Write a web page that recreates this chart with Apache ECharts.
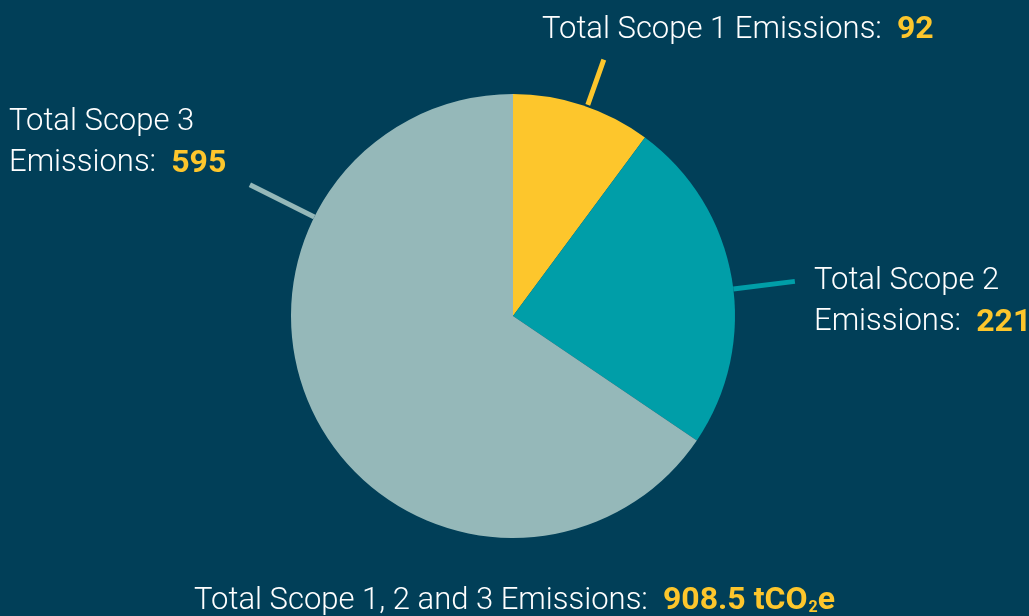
<!DOCTYPE html>
<html><head><meta charset="utf-8">
<script src="https://cdn.jsdelivr.net/npm/echarts@6/dist/echarts.min.js"></script>
<style>html,body{margin:0;padding:0;background:#013f58;}#c{width:1029px;height:616px;}</style>
</head><body><div id="c"></div>
<script>
const categories = ['Total Scope 1', 'Total Scope 2', 'Total Scope 3'];
const values = [92, 221, 595];
const totalLabel = '908.5';
const colors = ['#fdc62c', '#009ea8', '#95b8b9'];

const labelPos = [
  {x: 542, y: 30, twoLine: false},
  {x: 814, y: 302, twoLine: true},
  {x: 9, y: 143, twoLine: true}
];
const lineAngles = [19.5, 83, 296.5];   // degrees clockwise from top (label connector)
const lineR = [[224, 272], [222, 284], [222, 294]];

const cx = 513, cy = 316, R = 222;
const chart = echarts.init(document.getElementById('c'));
const FONT = 'Roboto';

const graphics = lineAngles.map((a, i) => {
  const t = a * Math.PI / 180;
  return {type: 'line', z: 1, shape: {
      x1: cx + lineR[i][0] * Math.sin(t), y1: cy - lineR[i][0] * Math.cos(t),
      x2: cx + lineR[i][1] * Math.sin(t), y2: cy - lineR[i][1] * Math.cos(t)},
    style: {stroke: colors[i], lineWidth: 5}};
});

chart.setOption({
  backgroundColor: '#013f58',
  animation: false,
  title: {
    text: '{a|Total Scope 1, 2 and 3 Emissions:  }{b|' + totalLabel + ' tCO}{s|2}{b|e}',
    left: 'center', top: 580,
    textStyle: {rich: {
      a: {fontFamily: FONT, fontWeight: 300, fontSize: 31, color: '#ffffff'},
      b: {fontFamily: FONT, fontWeight: 'bold', fontSize: 32, color: '#fdc62c'},
      s: {fontFamily: FONT, fontWeight: 'bold', fontSize: 16, color: '#fdc62c', padding: [14, 0, 0, 1]}
    }}
  },
  graphic: graphics,
  series: [{
    type: 'pie',
    center: [cx, cy],
    radius: [0, R],
    startAngle: 90,
    clockwise: true,
    silent: true,
    z: 2,
    data: categories.map((c, i) => ({name: c, value: values[i], itemStyle: {color: colors[i]}})),
    labelLine: {show: false},
    label: {
      show: true,
      formatter: (p) => {
        const sep = labelPos[p.dataIndex].twoLine ? '\n' : ' ';
        return '{a|' + p.name + sep + 'Emissions:  }{b|' + p.value + '}';
      },
      rich: {
        a: {fontFamily: FONT, fontWeight: 300, fontSize: 31, color: '#ffffff', lineHeight: 41},
        b: {fontFamily: FONT, fontWeight: 'bold', fontSize: 32, color: '#fdc62c', lineHeight: 41}
      }
    },
    labelLayout: (p) => ({x: labelPos[p.dataIndex].x, y: labelPos[p.dataIndex].y, align: 'left', verticalAlign: 'middle'})
  }]
});
</script></body></html>
